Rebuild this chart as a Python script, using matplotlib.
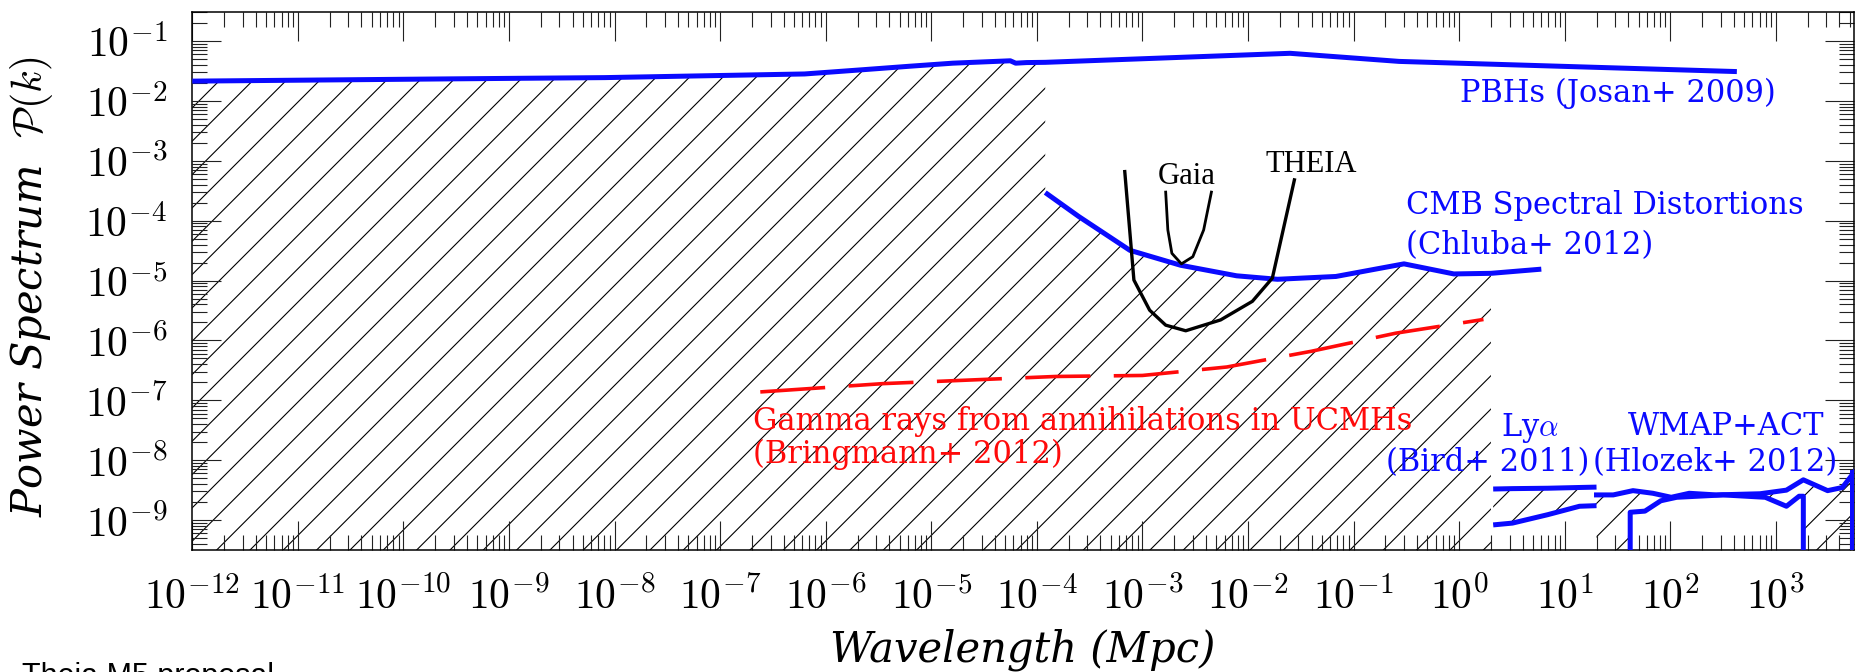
import numpy as np
import matplotlib
matplotlib.use("Agg")
import matplotlib.pyplot as plt
from matplotlib.ticker import FixedLocator, FuncFormatter, NullFormatter

# -----------------------------
# Data
# -----------------------------
# PBHs (Josan+ 2009): wavelength [Mpc], power spectrum
pbh_k = [1e-12, 3.2e-10, 8e-9, 6.3e-7, 2.2e-6, 6.3e-6, 1.6e-5, 5.6e-5, 6.3e-5, 8e-5, 1.2e-4,
         2.5e-2, 0.27, 427]
pbh_p = [0.0214, 0.0234, 0.0245, 0.0282, 0.0331, 0.038, 0.0427, 0.0468, 0.0427, 0.0437, 0.0441,
         0.0624, 0.0457, 0.0309]
pbh_hatch_end = 11   # hatched region stops at the 1.2e-4 Mpc edge

# CMB spectral distortions (Chluba+ 2012)
cmb_k = [1.2e-4, 2.5e-4, 7.6e-4, 2.3e-3, 7.8e-3, 1.9e-2, 6.8e-2, 0.30, 0.89, 2.0, 6.0]
cmb_p = [2.95e-4, 1.17e-4, 3.2e-5, 1.8e-5, 1.2e-5, 1.05e-5, 1.17e-5, 1.9e-5, 1.29e-5, 1.32e-5, 1.55e-5]
cmb_hatch_end = 10

# Gamma rays from annihilations in UCMHs (Bringmann+ 2012)
gam_k = [2.4e-7, 3.5e-6, 1.5e-4, 1e-3, 6.3e-3, 4e-2, 0.25, 1.7]
gam_p = [1.38e-7, 1.9e-7, 2.5e-7, 2.6e-7, 3.6e-7, 6.6e-7, 1.32e-6, 2.24e-6]

# Gaia and THEIA curves
gaia_k = [1.66e-3, 1.74e-3, 1.9e-3, 2.34e-3, 3.0e-3, 3.8e-3, 4.5e-3]
gaia_p = [3.0e-4, 7.0e-5, 2.85e-5, 1.9e-5, 2.5e-5, 7.0e-5, 3.0e-4]
theia_k = [6.8e-4, 8.3e-4, 1.17e-3, 1.66e-3, 2.57e-3, 5.5e-3, 1.1e-2, 1.7e-2, 2.75e-2]
theia_p = [6.6e-4, 1.02e-5, 3.2e-6, 1.8e-6, 1.45e-6, 2.2e-6, 4.5e-6, 1.1e-5, 4.8e-4]

# Ly-alpha (Bird+ 2011)
lya_k = [2.1, 3.2, 6.9, 13.8, 20.0]
lya_top = [3.3e-9, 3.35e-9, 3.4e-9, 3.5e-9, 3.55e-9]
lya_bot = [8.3e-10, 8.9e-10, 1.23e-9, 1.7e-9, 1.74e-9]

# WMAP+ACT (Hlozek+ 2012)
wm_up_k = [20.0, 28.8, 44.3, 68.4, 102, 151, 272, 708, 1259, 1820, 3090, 4270, 5750, 7080]
wm_up_p = [2.63e-9, 2.63e-9, 3.1e-9, 2.8e-9, 2.4e-9, 2.8e-9, 2.63e-9, 2.75e-9, 3.16e-9, 4.7e-9,
           3.1e-9, 3.5e-9, 6.9e-9, 1.26e-8]
wm_lo_k = [41.7, 41.7, 57.5, 81.3, 115, 316, 794, 1259, 1660, 1820, 1820]
wm_lo_p = [2.5e-10, 1.35e-9, 1.41e-9, 2.1e-9, 2.4e-9, 2.63e-9, 2.4e-9, 1.7e-9, 2.5e-9, 2.5e-9, 2.5e-10]
wm_edge_k = [5310, 5310]
wm_edge_p = [2.5e-10, 6.3e-9]

xticks = [10.0**e for e in range(-12, 4)]
yticks = [10.0**e for e in range(-9, 0)]

# -----------------------------
# Figure setup
# -----------------------------
plt.rcParams['mathtext.fontset'] = 'cm'
plt.rcParams['hatch.linewidth'] = 0.8

W, H = 1856, 672
fig = plt.figure(figsize=(W / 100, H / 100), dpi=100)
ax = fig.add_axes([192.3 / W, (H - 550) / H, (1854 - 192.3) / W, (550 - 12.3) / H])
ax.set_xscale('log')
ax.set_yscale('log')
xmin, xmax = 1e-12, 10**3.74
ymin, ymax = 10**-9.5, 10**-0.52

blue = '#0a0aff'
red = '#ff0a0a'

def hatch_poly(xs, ys):
    ax.fill(xs, ys, facecolor='none', edgecolor='black', hatch='/', lw=0, zorder=1)

# left region under the PBH curve joined with the region under the CMB curve
hx = pbh_k[:pbh_hatch_end] + cmb_k[:cmb_hatch_end]
hy = pbh_p[:pbh_hatch_end] + cmb_p[:cmb_hatch_end]
hatch_poly([hx[0]] + hx + [hx[-1]], [ymin] + hy + [ymin])

# Ly-alpha band between its two lines
hatch_poly(lya_k + lya_k[::-1], lya_top + lya_bot[::-1])

# WMAP+ACT region: below the upper curve, minus the box under the lower curve
wx = [wm_up_k[0]] + wm_up_k + [wm_up_k[-1]] + wm_lo_k[::-1]
wy = [ymin] + wm_up_p + [ymin] + wm_lo_p[::-1]
hatch_poly(wx, wy)

# -----------------------------
# Curves
# -----------------------------
blw = 3.6
ax.plot(pbh_k, pbh_p, color=blue, lw=blw, zorder=3, solid_capstyle='butt')
ax.plot(cmb_k, cmb_p, color=blue, lw=blw, zorder=3, solid_capstyle='butt')
ax.plot(gam_k, gam_p, color=red, lw=2.6, zorder=3, linestyle=(0, (18, 6.5)))
ax.plot(gaia_k, gaia_p, color='black', lw=2.0, zorder=3)
ax.plot(theia_k, theia_p, color='black', lw=2.4, zorder=3)
ax.plot(lya_k, lya_top, color=blue, lw=blw, zorder=3, solid_capstyle='butt')
ax.plot(lya_k, lya_bot, color=blue, lw=blw, zorder=3, solid_capstyle='butt')
ax.plot(wm_up_k, wm_up_p, color=blue, lw=blw, zorder=3)
ax.plot(wm_lo_k, wm_lo_p, color=blue, lw=blw, zorder=3)
ax.plot(wm_edge_k, wm_edge_p, color=blue, lw=blw, zorder=3)

# -----------------------------
# Labels
# -----------------------------
tf = dict(family='DejaVu Serif', fontsize=22, va='center')
ax.text(10**1.506, 10**-1.873, 'PBHs (Josan+ 2009)', color=blue, ha='center', **tf)
ax.text(10**-0.50, 10**-3.74, 'CMB Spectral Distortions', color=blue, ha='left', **tf)
ax.text(10**-0.50, 10**-4.41, '(Chluba+ 2012)', color=blue, ha='left', **tf)
ax.text(10**-6.69, 10**-7.356, 'Gamma rays from annihilations in UCMHs', color=red, ha='left', **tf)
ax.text(10**-6.69, 10**-7.91, '(Bringmann+ 2012)', color=red, ha='left', **tf)
ax.text(10**0.40, 10**-7.46, r'Ly$\alpha$', color=blue, ha='left', **tf)
ax.text(10**-0.69, 10**-8.045, '(Bird+ 2011)', color=blue, ha='left', **tf)
ax.text(10**1.594, 10**-7.44, 'WMAP+ACT', color=blue, ha='left', **tf)
ax.text(10**1.27, 10**-8.045, '(Hlozek+ 2012)', color=blue, ha='left', **tf)
ax.text(10**-2.585, 10**-3.265, 'Gaia', color='black', ha='center', va='center',
        family='Liberation Serif', fontsize=22)
ax.text(10**-1.40, 10**-3.07, 'THEIA', color='black', ha='center', va='center',
        family='Liberation Serif', fontsize=22)

# -----------------------------
# Axes styling
# -----------------------------
ax.xaxis.set_major_locator(FixedLocator(xticks))
ax.yaxis.set_major_locator(FixedLocator(yticks))
xminor = [m * t for t in [10.0**e for e in range(-12, 5)] for m in range(2, 10)]
yminor = [m * t for t in [10.0**e for e in range(-10, 0)] for m in range(2, 10)]
ax.xaxis.set_minor_locator(FixedLocator(xminor))
ax.yaxis.set_minor_locator(FixedLocator(yminor))
ax.set_xlim(xmin, xmax)
ax.set_ylim(ymin, ymax)
fmt = FuncFormatter(lambda v, p: r'$10^{%d}$' % int(round(np.log10(v))))
ax.xaxis.set_major_formatter(fmt)
ax.yaxis.set_major_formatter(fmt)
ax.xaxis.set_minor_formatter(NullFormatter())
ax.yaxis.set_minor_formatter(NullFormatter())

ax.tick_params(which='both', direction='in', top=True, right=True, width=0.8, color='#222222')
ax.tick_params(which='major', length=21)
ax.tick_params(which='minor', length=11)
ax.tick_params(axis='x', which='major', labelsize=30, pad=19)
ax.tick_params(axis='y', which='major', labelsize=30, pad=18)
for s in ax.spines.values():
    s.set_linewidth(1.1)

ax.set_xlabel('Wavelength (Mpc)', family='DejaVu Serif', style='italic', fontsize=30, va='center')
ax.xaxis.set_label_coords(0.5, (550 - 650) / 537.7)
ax.set_ylabel(r'Power Spectrum  $\mathcal{P}(k)$', family='DejaVu Serif', style='italic',
              fontsize=30, va='center')
ax.yaxis.set_label_coords((32 - 192.3) / 1661.7, 0.49)

# cut-off caption at the bottom edge
fig.text(22 / W, 1 - 662 / H, 'Theia M5 proposal', ha='left', va='top',
         family='Liberation Sans', fontsize=22)

fig.savefig('out.png', dpi=100)
